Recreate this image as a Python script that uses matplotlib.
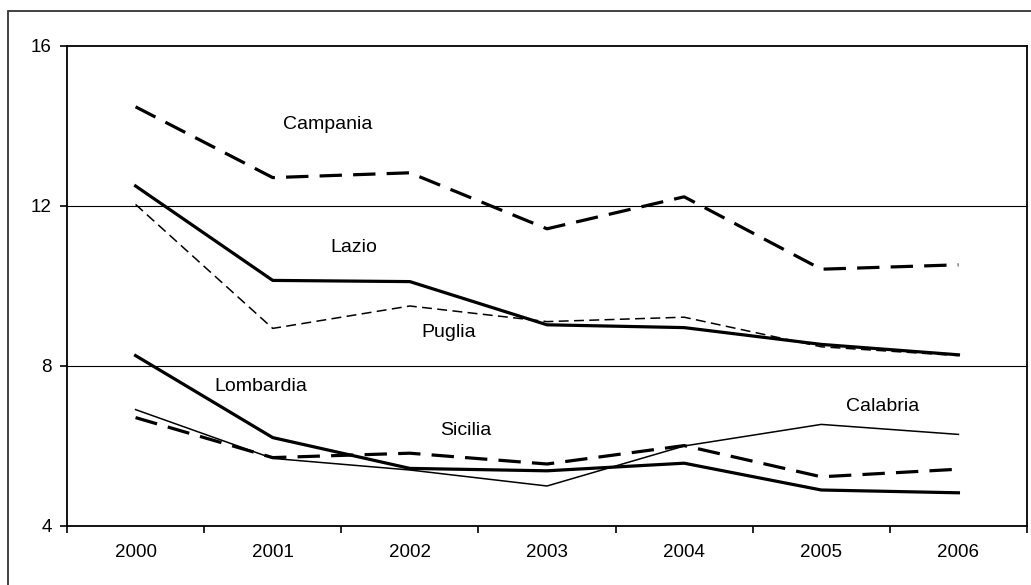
import matplotlib.pyplot as plt
from matplotlib.patches import Rectangle

plt.rcParams['font.family'] = ['Liberation Sans', 'DejaVu Sans']

years = ['2000', '2001', '2002', '2003', '2004', '2005', '2006']
campania = [14.48, 12.71, 12.83, 11.43, 12.23, 10.42, 10.53]
lazio = [12.50, 10.14, 10.11, 9.03, 8.96, 8.54, 8.28]
puglia = [12.04, 8.94, 9.50, 9.11, 9.22, 8.48, 8.26]
lombardia = [8.26, 6.21, 5.44, 5.38, 5.57, 4.90, 4.83]
sicilia = [6.71, 5.71, 5.82, 5.55, 6.01, 5.23, 5.42]
calabria = [6.91, 5.69, 5.40, 5.00, 6.00, 6.54, 6.29]

W, H = 1031, 585
fig = plt.figure(figsize=(W / 100, H / 100), dpi=100)
ax = fig.add_axes([67 / W, (H - 526) / H, (1027 - 67) / W, (526 - 46) / H])

x = range(len(years))
thick, thin = 2.3, 1.1

ax.plot(x, campania, color='black', lw=thick, dashes=(7, 3.5))
ax.plot(x, lazio, color='black', lw=thick)
ax.plot(x, puglia, color='black', lw=thin, dashes=(6.5, 3.5))
ax.plot(x, lombardia, color='black', lw=thick)
ax.plot(x, sicilia, color='black', lw=thick, dashes=(7, 3.5))
ax.plot(x, calabria, color='black', lw=thin)

# etichette delle serie
labels = {
    'Campania': (1.40, 14.03),
    'Lazio': (1.59, 10.95),
    'Puglia': (2.28, 8.83),
    'Lombardia': (0.91, 7.48),
    'Sicilia': (2.41, 6.38),
    'Calabria': (5.45, 6.98),
}
for name, (lx, ly) in labels.items():
    ax.text(lx, ly, name, ha='center', va='center', fontsize=14)

ax.set_xlim(-0.5, len(years) - 0.5)
ax.set_ylim(4, 16)
ax.set_yticks([4, 8, 12, 16])
ax.set_xticks(list(x))
ax.set_xticklabels(years)
ax.set_xticks([i - 0.5 for i in range(len(years) + 1)], minor=True)
ax.tick_params(axis='x', which='major', length=0, pad=13, labelsize=13.5)
ax.tick_params(axis='x', which='minor', length=5, width=1.2, direction='out')
ax.tick_params(axis='y', length=5, width=1.2, direction='out', pad=6, labelsize=13.5)

for v in [8, 12]:
    ax.axhline(v, color='black', lw=0.8, zorder=0)
for s in ax.spines.values():
    s.set_linewidth(1.3)

# cornice esterna
fig.patches.append(Rectangle((8 / W, -0.1), 1.2, 1.1 - 11 / H, transform=fig.transFigure,
                             fill=False, edgecolor='#333333', lw=1.3, clip_on=False))

fig.savefig('out.png', dpi=100)
